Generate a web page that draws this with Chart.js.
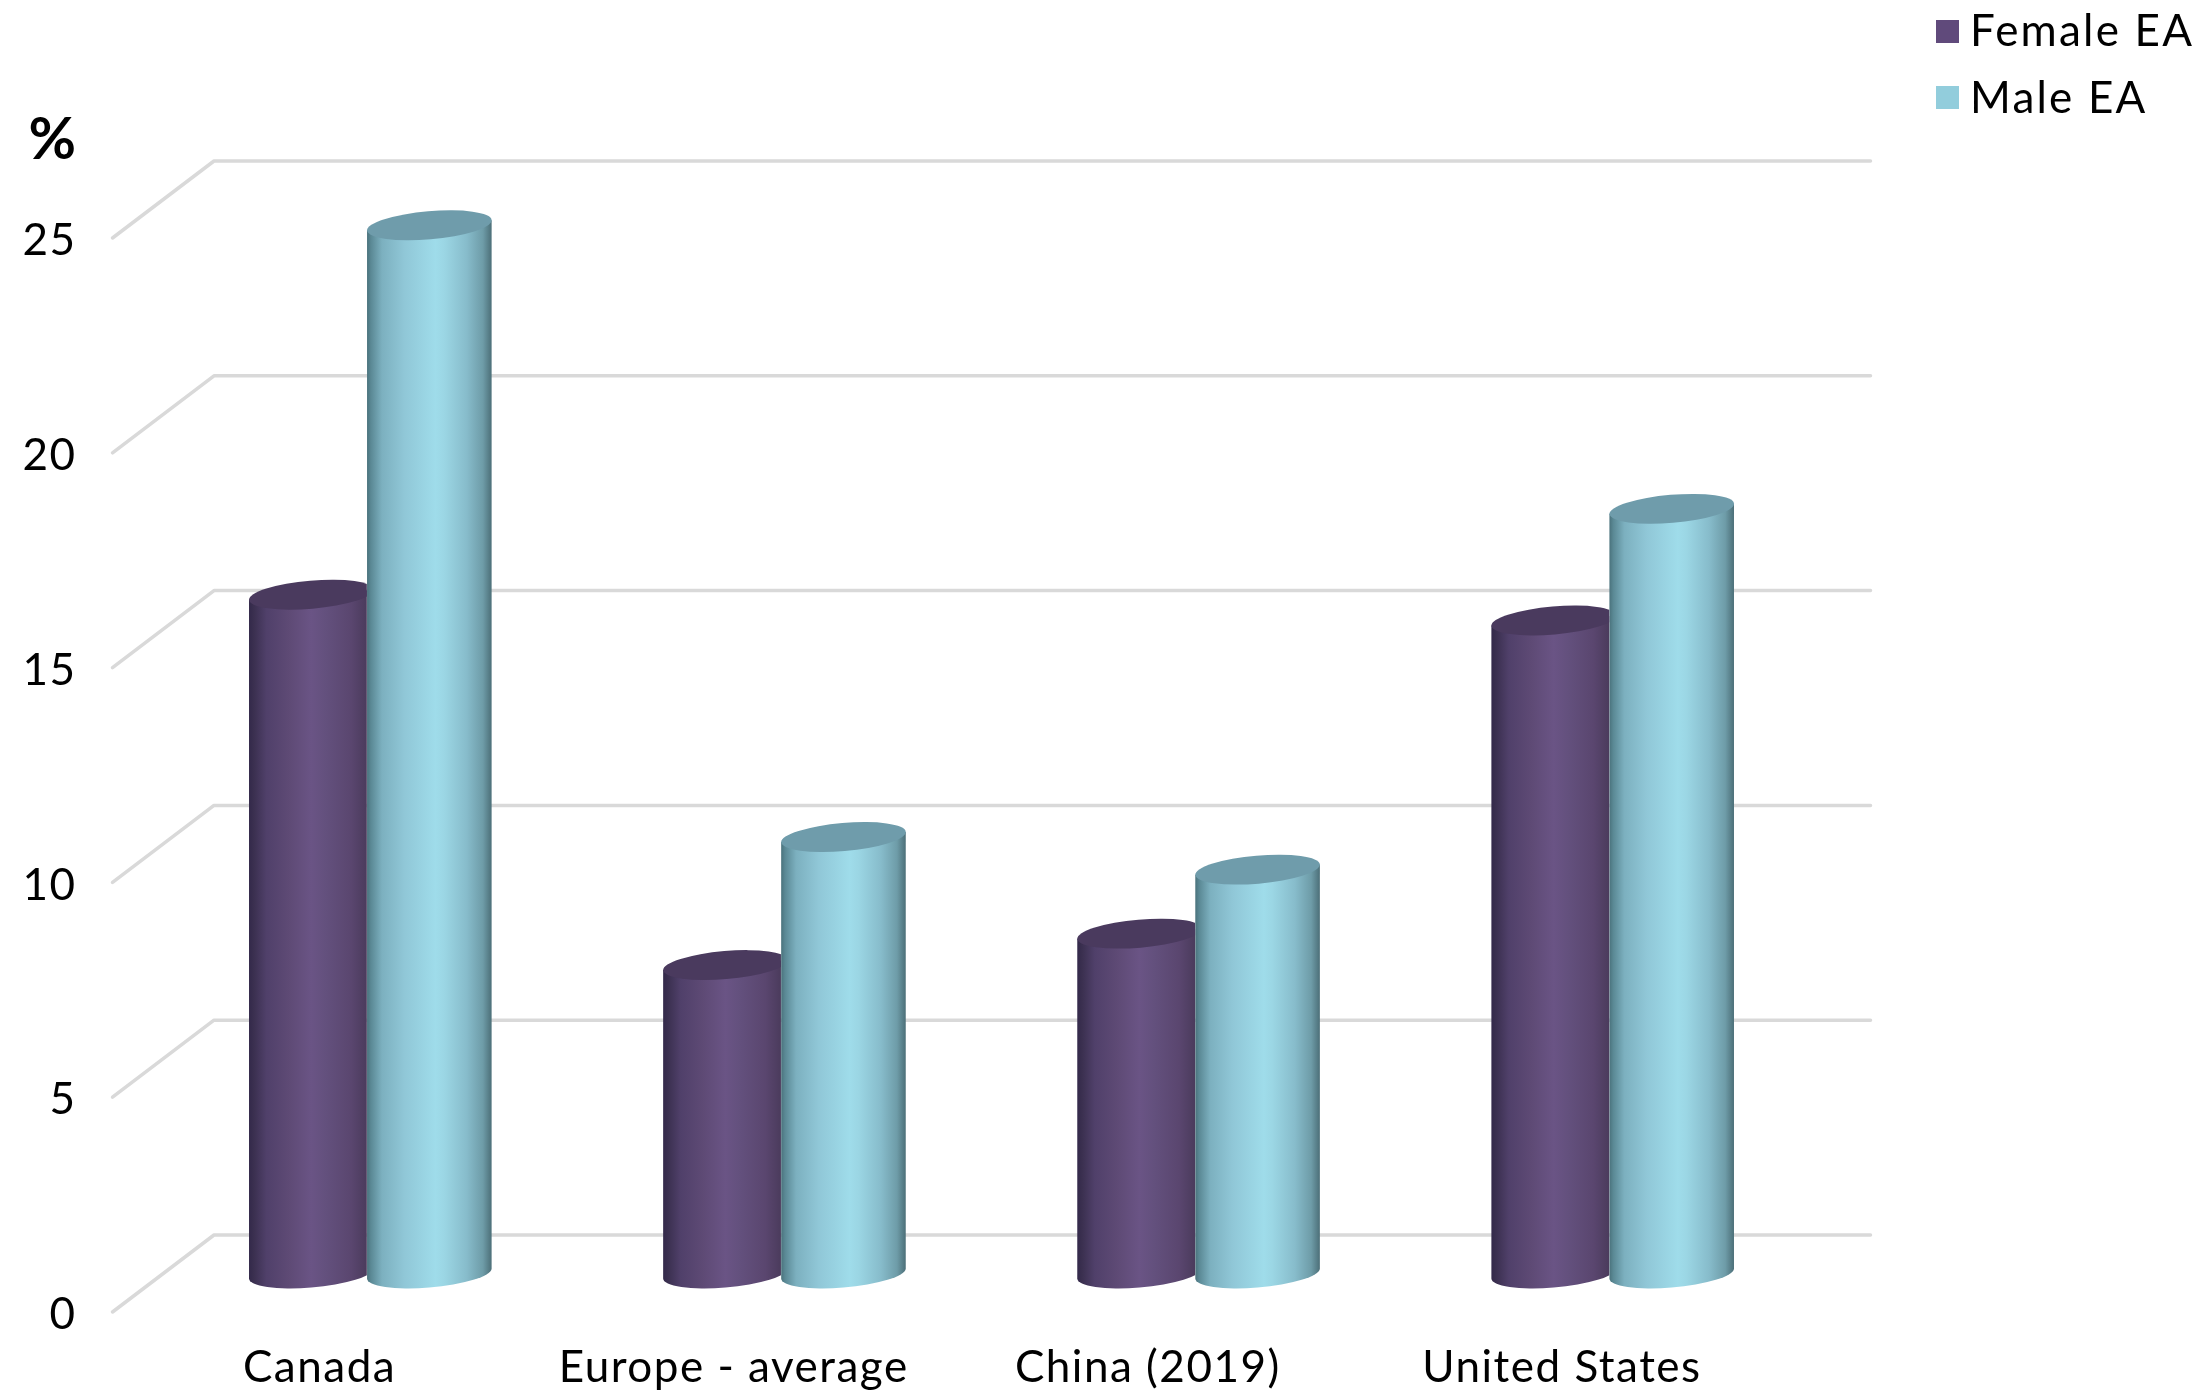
<!DOCTYPE html>
<html>
<head>
<meta charset="utf-8">
<style>html,body{margin:0;padding:0;background:#fff}#wrap{width:2198px;height:1391px;position:relative}</style>
<script src="https://cdn.jsdelivr.net/npm/chart.js@4/dist/chart.umd.min.js"></script>
</head>
<body>
<div id="wrap"><canvas id="c"></canvas></div>
<script>
const categories = ['Canada', 'Europe - average', 'China (2019)', 'United States'];
const femaleEA = [15.8, 7.18, 7.91, 15.2];
const maleEA = [24.4, 10.16, 9.4, 17.8];
const yMin = 0, yMax = 25, yStep = 5;
const FONT = 'Lato';
const FONT_SIZE = 44;
const SPACING = '1.5px';
const LEGEND_SPACING = '2.2px';
const DEPTH_X = 101.5, DEPTH_Y = 77;
const CAP_A = 62.5, CAP_B = 14, CAP_TILT = -0.085;
const CYL = {
  '#604a7b': {clipRight:true, cap:'#4a3a5e', stops:[[0,'#33294a'],[0.04,'#3b3050'],[0.14,'#50406a'],[0.32,'#5e4a75'],[0.5,'#6a5485'],[0.62,'#63507d'],[0.82,'#5a466f'],[1,'#443654']]},
  '#92cddc': {clipRight:false, cap:'#6f9cab', stops:[[0,'#4a727c'],[0.03,'#5a8894'],[0.12,'#7cb0bf'],[0.3,'#90c7d7'],[0.55,'#9fdcea'],[0.62,'#9bd6e4'],[0.8,'#87bccb'],[0.93,'#6e9ca8'],[1,'#4c6f78']]}
};

const proto = Chart.BarElement.prototype;
proto.draw = function(ctx){
  const p = this.getProps(['x','y','base','width']);
  const style = CYL[this.options.backgroundColor];
  const cx = p.x + DEPTH_X/2, yT = p.y - DEPTH_Y/2, yB = p.base - DEPTH_Y/2;
  const s = Math.sin(CAP_TILT), c = Math.cos(CAP_TILT);
  const tR = Math.atan2(-CAP_B*s, CAP_A*c), tL = tR + Math.PI;
  const pt = (cy,t)=>[cx + CAP_A*Math.cos(t)*c - CAP_B*Math.sin(t)*s, cy + CAP_A*Math.cos(t)*s + CAP_B*Math.sin(t)*c];
  const L = pt(yT,tL), R = pt(yT,tR);
  const g = ctx.createLinearGradient(L[0],0,R[0],0);
  style.stops.forEach(st=>g.addColorStop(st[0],st[1]));
  ctx.save();
  if (style.clipRight) {
    // the neighbouring bar sits in front of this one: hide the part it covers
    ctx.beginPath();
    ctx.rect(cx - 100, 0, 100 + p.width - CAP_A, 1391);
    ctx.clip();
  }
  ctx.fillStyle = g;
  ctx.beginPath();
  ctx.moveTo(L[0],L[1]);
  ctx.ellipse(cx,yB,CAP_A,CAP_B,CAP_TILT,tL,tR,true);
  ctx.lineTo(R[0],R[1]);
  ctx.closePath();
  ctx.fill();
  ctx.fillStyle = style.cap;
  ctx.beginPath();
  ctx.ellipse(cx,yT,CAP_A,CAP_B,CAP_TILT,0,Math.PI*2);
  ctx.fill();
  ctx.restore();
};

const letterSpacing = {id:'ls', beforeDraw(chart){chart.ctx.letterSpacing = SPACING;}};
const walls = {
  id:'walls',
  beforeDatasetsDraw(chart){
    const {ctx, scales:{y}, chartArea:a} = chart;
    ctx.save();
    ctx.strokeStyle = '#d9d9d9';
    ctx.lineWidth = 3.5;
    ctx.lineCap = 'round';
    ctx.lineJoin = 'round';
    y.ticks.forEach(t=>{
      const py = y.getPixelForValue(t.value);
      ctx.beginPath();
      ctx.moveTo(a.left, py);
      ctx.lineTo(a.left + DEPTH_X, py - DEPTH_Y);
      ctx.lineTo(a.right + DEPTH_X, py - DEPTH_Y);
      ctx.stroke();
    });
    ctx.restore();
  }
};
const legendAndUnit = {
  id:'legendAndUnit',
  afterDraw(chart){
    const {ctx} = chart;
    ctx.save();
    ctx.letterSpacing = LEGEND_SPACING;
    ctx.textBaseline = 'middle';
    ctx.textAlign = 'left';
    const rows = [[20,32],[86,99]];
    chart.data.datasets.forEach((d,i)=>{
      ctx.fillStyle = d.backgroundColor;
      ctx.fillRect(1936, rows[i][0], 23, 23);
      ctx.fillStyle = '#000';
      ctx.font = '400 ' + FONT_SIZE + 'px ' + FONT;
      ctx.fillText(d.label, 1970, rows[i][1]);
    });
    ctx.letterSpacing = '0px';
    ctx.font = '700 58px ' + FONT;
    ctx.fillStyle = '#000';
    ctx.textAlign = 'right';
    ctx.fillText('%', 76, 140);
    ctx.restore();
  }
};

new Chart(document.getElementById('c'), {
  type:'bar',
  data:{labels:categories, datasets:[
    {label:'Female EA', data:femaleEA, backgroundColor:'#604a7b', clip:false},
    {label:'Male EA', data:maleEA, backgroundColor:'#92cddc', clip:false}
  ]},
  options:{
    responsive:true, maintainAspectRatio:false, animation:false,
    categoryPercentage:0.57, barPercentage:1,
    layout:{padding:{top:238,left:0,right:429,bottom:0}},
    plugins:{legend:{display:false},tooltip:{enabled:false},title:{display:false}},
    scales:{
      x:{
        grid:{display:false}, border:{display:false},
        ticks:{color:'#000',font:{family:FONT,size:FONT_SIZE},maxRotation:0,autoSkip:false,padding:21},
        afterFit(s){s.height=79;}
      },
      y:{
        min:yMin,max:yMax,
        grid:{display:false,drawTicks:false}, border:{display:false},
        ticks:{stepSize:yStep,color:'#000',font:{family:FONT,size:FONT_SIZE},padding:36,labelOffset:3},
        afterFit(s){s.width=112.5;}
      }
    }
  },
  plugins:[letterSpacing,walls,legendAndUnit]
});
</script>
</body>
</html>
